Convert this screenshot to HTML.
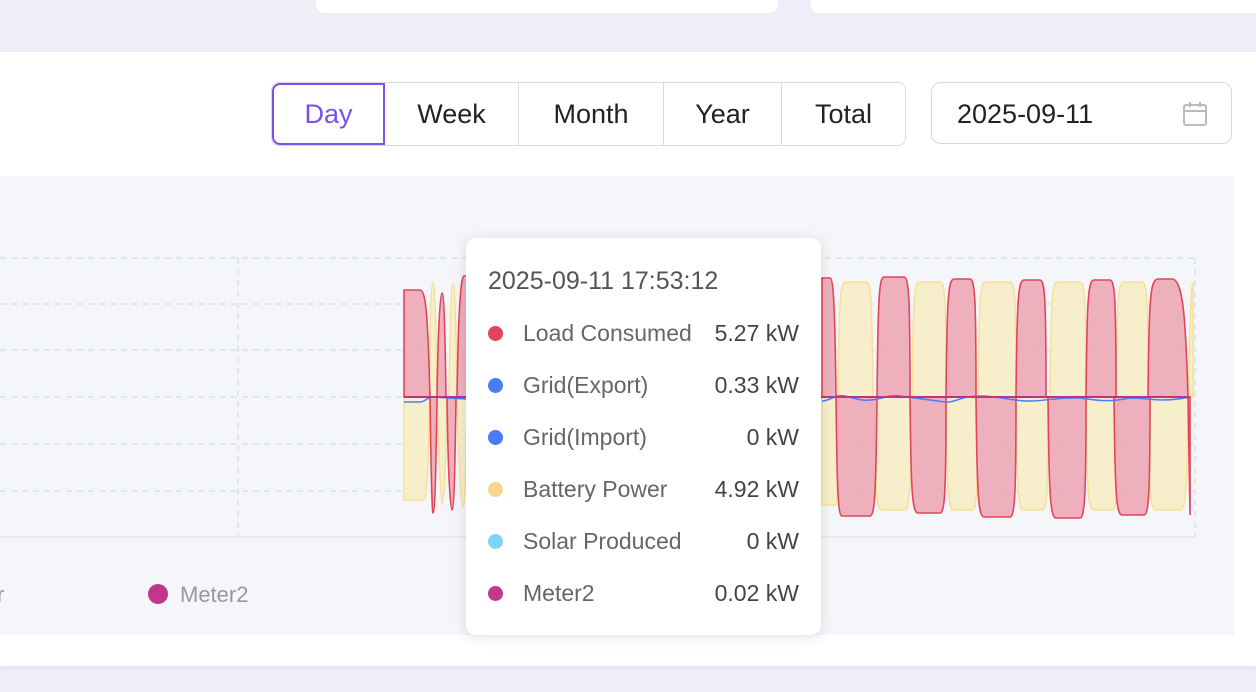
<!DOCTYPE html>
<html><head><meta charset="utf-8"><style>
body{margin:0;width:1256px;height:692px;overflow:hidden;background:#eeeef8;font-family:"Liberation Sans",sans-serif;position:relative}
.card{position:absolute;background:#fff}
.seg{position:absolute;top:82px;height:62px;border:1px solid #d9d9d9;display:flex;font-size:27px;color:#222;border-radius:8px;overflow:hidden;background:#fff}
.seg div{display:flex;align-items:center;justify-content:center;border-left:1px solid #d9d9d9;box-sizing:border-box}
.tt{position:absolute;left:466px;top:238px;width:355px;height:397px;background:#fff;border-radius:10px;box-shadow:0 2px 14px rgba(0,0,0,.12);color:#666;font-size:23px}
.row{position:absolute;left:22px;right:22px;display:flex;align-items:center}
.row i{width:15px;height:15px;border-radius:50%;margin-right:20px;display:inline-block}
.row b{font-weight:normal;margin-left:auto;color:#444}
</style></head><body>
<div class="card" style="left:316px;top:-10px;width:462px;height:23px;border-radius:8px"></div>
<div class="card" style="left:811px;top:-10px;width:460px;height:23px;border-radius:8px"></div>
<div class="card" style="left:0;top:52px;width:1256px;height:614px;box-shadow:0 2px 6px rgba(0,0,0,.06)"></div>
<div class="seg" style="left:271px;width:633px">
<div style="width:113px;border:2px solid #7b4ff0;border-radius:8px 0 0 8px;color:#7b4ff0">Day</div>
<div style="width:133px;border-left:none">Week</div>
<div style="width:145px">Month</div>
<div style="width:118px">Year</div>
<div style="width:124px">Total</div>
</div>
<div style="position:absolute;left:931px;top:82px;width:301px;height:62px;border:1px solid #d9d9d9;border-radius:10px;background:#fff;font-size:27px;color:#222;box-sizing:border-box;padding:16px 0 0 25px">2025-09-11
<svg style="position:absolute;left:250px;top:18px" width="26" height="26" viewBox="0 0 26 26"><rect x="2" y="4" width="22" height="20" rx="2" fill="none" stroke="#bbb" stroke-width="2"/><line x1="2" y1="10" x2="24" y2="10" stroke="#bbb" stroke-width="2"/><line x1="8" y1="1" x2="8" y2="6" stroke="#bbb" stroke-width="2"/><line x1="18" y1="1" x2="18" y2="6" stroke="#bbb" stroke-width="2"/></svg></div>
<div style="position:absolute;left:0;top:176px;width:1234px;height:459px;background:#f5f6fa"></div>
<svg style="position:absolute;left:0;top:0" width="1256" height="692">
<g stroke="#d8dce6" stroke-dasharray="6,5" stroke-width="1.3">
<line x1="0" y1="258" x2="1195" y2="258"/><line x1="0" y1="304" x2="1195" y2="304"/><line x1="0" y1="350" x2="1195" y2="350"/><line x1="0" y1="397" x2="1195" y2="397"/><line x1="0" y1="444" x2="1195" y2="444"/><line x1="0" y1="491" x2="1195" y2="491"/>
<line x1="238" y1="258" x2="238" y2="537"/><line x1="1195" y1="258" x2="1195" y2="537"/></g>
<line x1="0" y1="537" x2="1195" y2="537" stroke="#e2e5ec" stroke-width="1.5"/>
<g fill="#f7efcb" stroke="#f6e096" stroke-width="1.5">
<path d="M404,397 L404,500 L424,500 C428,500 429,420 430,397 Z"/>
<path d="M429,397 C430,330 431,283 433,283 C435,283 436,330 437,397 Z"/>
<path d="M437,397 C439,460 441,505 442,505 C444,505 446,460 447,397 Z"/>
<path d="M449,397 C450,330 451,283 453,283 C455,283 456,330 457,397 Z"/>
<path d="M457,397 C459,460 461,507 463,507 C465,507 466,460 467,397 Z"/>
<path d="M822,397 L822,505 L836,505 C838,505 838,420 838,397 Z"/>
<path d="M838,397 C839,300 840,282 846,282 L866,282 C871,282 872,300 873,397 Z"/>
<path d="M874,397 C875,490 876,510 882,510 L904,510 C910,510 911,490 912,397 Z"/>
<path d="M912,397 C913,300 914,282 920,282 L940,282 C945,282 946,300 946,397 Z"/>
<path d="M946,397 C947,490 948,510 954,510 L972,510 C977,510 978,490 978,397 Z"/>
<path d="M978,397 C979,300 980,282 986,282 L1010,282 C1015,282 1016,300 1016,397 Z"/>
<path d="M1016,397 C1017,490 1018,510 1024,510 L1042,510 C1047,510 1048,490 1048,397 Z"/>
<path d="M1050,397 C1051,300 1052,282 1058,282 L1080,282 C1085,282 1086,300 1086,397 Z"/>
<path d="M1086,397 C1087,490 1088,510 1094,510 L1112,510 C1117,510 1118,490 1118,397 Z"/>
<path d="M1116,397 C1117,300 1118,282 1124,282 L1142,282 C1147,282 1148,300 1148,397 Z"/>
<path d="M1148,397 C1149,490 1150,510 1156,510 L1180,510 C1186,510 1187,490 1188,397 Z"/>
<path d="M1188,397 C1190,330 1191,283 1193,283 L1193,397 Z"/>
</g>
<g fill="#eda9b6" fill-opacity=".9" stroke="#e2455b" stroke-width="1.6">
<path d="M404,397 L404,290 L420,290 C427,290 428,330 430,397 Z"/>
<path d="M430,397 C431,470 432,513 433,513 C435,513 436,470 437,397 Z"/>
<path d="M437,397 C438,330 440,293 442,293 C444,293 445,330 446,397 Z"/>
<path d="M447,397 C448,470 450,510 452,510 C454,510 455,470 456,397 Z"/>
<path d="M457,397 C458,330 460,276 464,276 L470,276 L470,397 Z"/>
<path d="M822,397 L822,278 L830,278 C834,278 835,320 836,397 Z"/>
<path d="M836,397 C837,490 838,516 842,516 L870,516 C875,516 876,490 877,397 Z"/>
<path d="M877,397 C878,300 879,277 884,277 L904,277 C909,277 910,300 910,397 Z"/>
<path d="M910,397 C911,490 912,513 918,513 L940,513 C945,513 946,490 946,397 Z"/>
<path d="M946,397 C947,300 948,279 954,279 L970,279 C975,279 976,300 976,397 Z"/>
<path d="M976,397 C977,490 978,517 984,517 L1010,517 C1015,517 1016,490 1016,397 Z"/>
<path d="M1016,397 C1017,300 1018,280 1024,280 L1040,280 C1045,280 1046,300 1046,397 Z"/>
<path d="M1048,397 C1049,490 1050,518 1056,518 L1080,518 C1085,518 1086,490 1086,397 Z"/>
<path d="M1086,397 C1087,300 1088,280 1094,280 L1110,280 C1115,280 1116,300 1116,397 Z"/>
<path d="M1114,397 C1115,490 1116,515 1122,515 L1144,515 C1149,515 1150,490 1150,397 Z"/>
<path d="M1148,397 C1149,300 1150,279 1158,279 L1172,279 C1184,279 1186,330 1188,397 L1190,515 L1190,397 Z"/>
</g>
<path d="M404,402 L420,402 C425,402 428,397 432,397 L466,399 M822,401 C830,401 835,394 845,396 C855,398 860,401 870,400 C880,400 890,394 900,396 L945,402 C955,403 960,396 980,396 C1000,396 1010,401 1030,401 C1045,401 1060,397 1080,398 C1100,401 1110,402 1130,398 C1150,398 1160,403 1190,397" fill="none" stroke="#4a7cf3" stroke-width="1.5"/>
<line x1="404" y1="397" x2="1190" y2="397" stroke="#b9338c" stroke-width="2"/>
<circle cx="158" cy="594" r="10" fill="#c0378c"/>
<text x="180" y="602" font-size="22" fill="#999" font-family="Liberation Sans">Meter2</text>
<text x="-3" y="602" font-size="22" fill="#999" font-family="Liberation Sans">r</text>
</svg>
<div class="tt">
<div style="position:absolute;left:22px;top:29px;font-size:25px;color:#555">2025-09-11 17:53:12</div>
<div class="row" style="top:82px"><i style="background:#e2455b"></i>Load Consumed<b>5.27 kW</b></div>
<div class="row" style="top:134px"><i style="background:#4a7cf3"></i>Grid(Export)<b>0.33 kW</b></div>
<div class="row" style="top:186px"><i style="background:#4a7cf3"></i>Grid(Import)<b>0 kW</b></div>
<div class="row" style="top:238px"><i style="background:#f6d88c"></i>Battery Power<b>4.92 kW</b></div>
<div class="row" style="top:290px"><i style="background:#7fd3f5"></i>Solar Produced<b>0 kW</b></div>
<div class="row" style="top:342px"><i style="background:#c0378c"></i>Meter2<b>0.02 kW</b></div>
</div>
</body></html>
